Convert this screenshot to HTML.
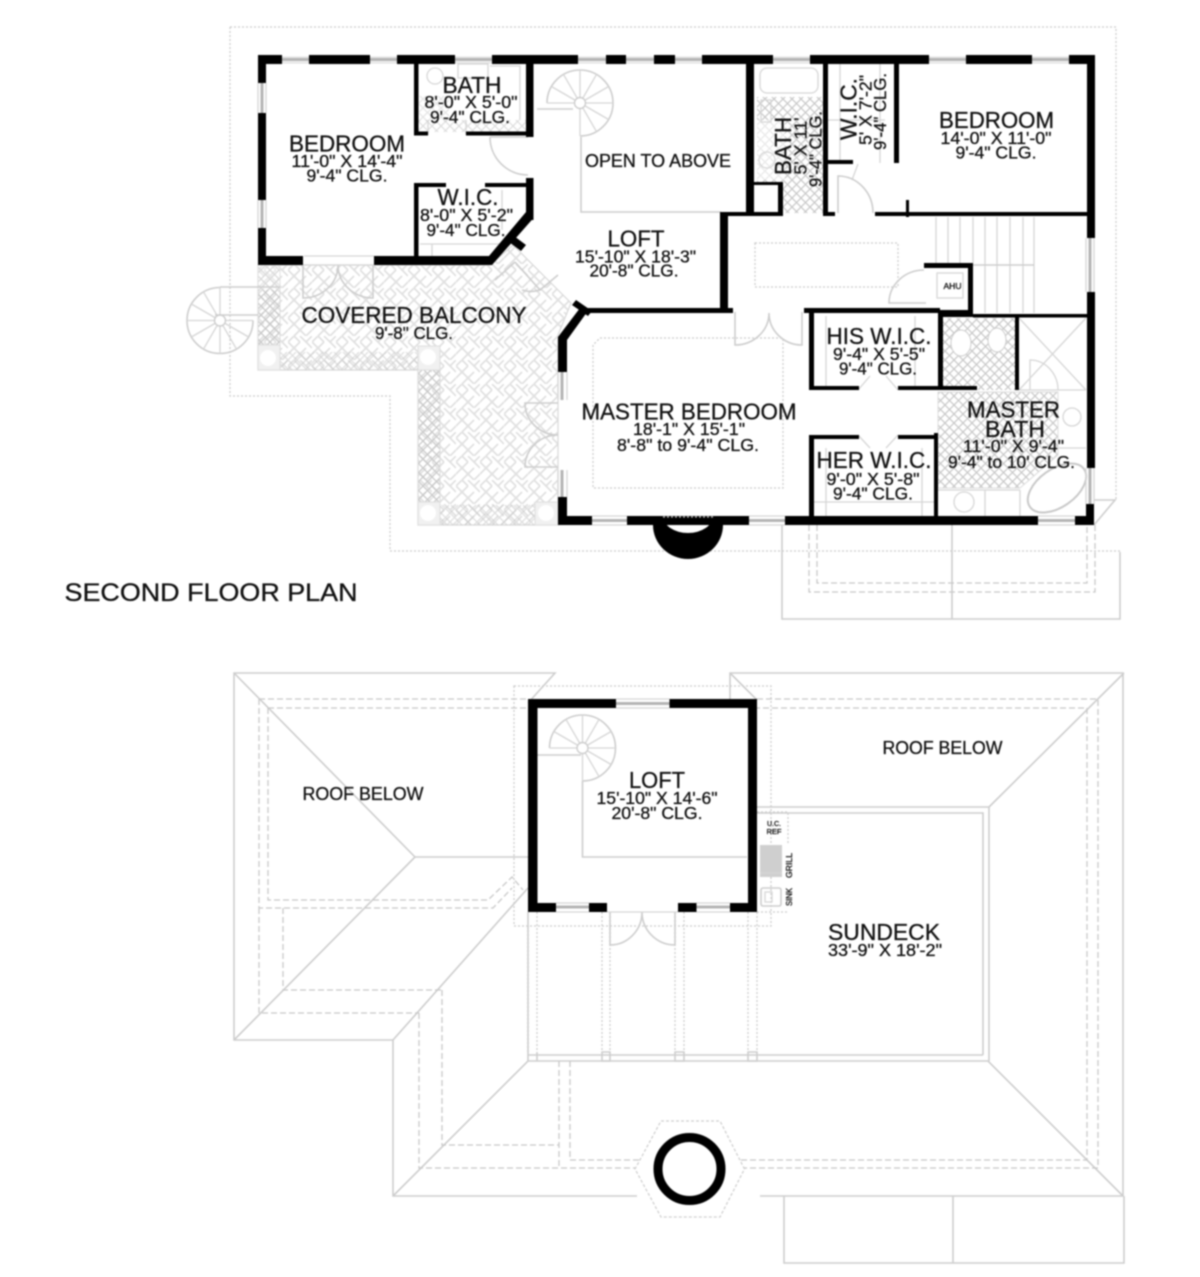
<!DOCTYPE html>
<html><head><meta charset="utf-8"><style>
html,body{margin:0;padding:0;background:#fff}
svg{display:block;filter:blur(.7px)}
text{font-family:"Liberation Sans",sans-serif;fill:#111;stroke:#111;stroke-width:.3px;text-anchor:middle}
.b{font-size:23px}.s{font-size:17.5px}
.l{fill:none;stroke:#cdcdcd;stroke-width:1.6}
.t{fill:none;stroke:#d6d6d6;stroke-width:1.3}
.d{fill:none;stroke:#c8c8c8;stroke-width:1.3;stroke-dasharray:6 3}
.o{fill:none;stroke:#cccccc;stroke-width:1.3;stroke-dasharray:2 2}
.w{fill:none;stroke:#b4b4b4;stroke-width:3}
.e{fill:#f1f1f1;stroke:#dedede;stroke-width:1}
</style></head><body>
<svg xmlns="http://www.w3.org/2000/svg" width="1200" height="1277" viewBox="0 0 1200 1277">
<defs>
<pattern id="hb" width="24" height="24" patternUnits="userSpaceOnUse">
<path d="M0 6L6 0M0 18L12 6M6 24L18 12M18 24L24 18M0 6L18 24M12 0L24 12M6 0L12 6M18 6L24 0M0 18L6 12" fill="none" stroke="#e0e0e0" stroke-width="1.7"/>
</pattern>
<pattern id="xh" width="9" height="9" patternUnits="userSpaceOnUse">
<path d="M0 0L9 9M9 0L0 9" fill="none" stroke="#c8c8c8" stroke-width="1.2"/>
</pattern>
<g id="st">
<path class="l" d="M-33 0A33 33 0 1 1 0 33"/>
<path class="t" d="M-33 0L0 0M-28.6 -16.5L0 0M-16.5 -28.6L0 0M0 -33L0 0M16.5 -28.6L0 0M28.6 -16.5L0 0M33 0L0 0M28.6 16.5L0 0M16.5 28.6L0 0M0 33L0 0"/>
<circle r="5.5" fill="#fff" stroke="#cdcdcd" stroke-width="1.4"/>
</g>
</defs>
<rect width="1200" height="1277" fill="#fff"/>

<!-- second floor outer overhang -->
<path class="o" d="M230 27H1116V500M230 27V396H390V551H782M782 551H1120"/>

<!-- balcony hatch -->
<path fill="url(#hb)" stroke="#d8d8d8" stroke-width="1.2" d="M258 265H490L513 245L571 303L558 335V525H418V370H258Z"/>
<rect x="258" y="265" width="22" height="105" fill="url(#xh)" stroke="#ddd"/>
<rect x="258" y="265" width="22" height="25" fill="#fff" opacity=".3"/>
<rect x="280" y="352" width="138" height="18" fill="url(#xh)" opacity=".6"/>
<rect x="418" y="370" width="22" height="155" fill="url(#xh)" stroke="#ddd"/>
<rect x="440" y="505" width="95" height="20" fill="url(#xh)" opacity=".6"/>
<rect x="258" y="345" width="22" height="25" class="e"/><circle cx="268" cy="358" r="8" fill="#fff"/>
<rect x="418" y="346" width="22" height="24" class="e"/><circle cx="428" cy="357" r="8" fill="#fff"/>
<rect x="418" y="502" width="22" height="23" class="e"/><circle cx="428" cy="513" r="8" fill="#fff"/>
<rect x="535" y="502" width="23" height="23" class="e"/><circle cx="546" cy="513" r="8" fill="#fff"/>

<!-- exterior spiral -->
<use href="#st" transform="translate(220 320.5) rotate(180)"/>
<path class="l" d="M220 287H280M215 315H258"/>

<!-- balcony doors -->
<path class="l" d="M303 265V298A35 33 0 0 0 338 265A35 33 0 0 0 373 298V265" />
<path class="l" d="M495 280L515 262M515 262L540 290A30 30 0 0 1 522 290M540 290L558 275"/>
<path class="l" d="M558 403H525A33 32 0 0 0 558 435A33 32 0 0 0 525 467H558"/>

<!-- loft / open to above -->
<use href="#st" transform="translate(580 103)"/>
<path class="l" d="M537 109H573M581 137V212H721M490 137H528M490 137A38 38 0 0 0 528 175"/>

<!-- bath upper left fixtures -->
<rect x="418" y="120" width="108" height="12" fill="url(#xh)" opacity=".6"/>
<rect x="419" y="96" width="30" height="26" fill="url(#xh)" opacity=".5"/>
<circle cx="435" cy="76" r="8" class="t"/>
<path class="t" d="M458 64H488V78H458ZM490 66H520V120"/>
<path class="t" d="M428 135L428 120M466 135L466 120"/>
<!-- wic shelves -->
<path class="t" d="M420 244H505M432 244V262M502 190V230"/>

<!-- upper right bath -->
<rect x="757" y="97" width="66" height="116" fill="url(#xh)"/>
<rect x="757" y="64" width="66" height="33" fill="#fff"/>
<rect x="757" y="120" width="28" height="60" fill="#fff" opacity=".6"/>
<rect x="760" y="68" width="58" height="25" rx="7" class="t"/>
<circle cx="767" cy="160" r="8" class="t"/>
<rect x="761" y="100" width="10" height="22" class="t"/>
<rect x="754" y="185" width="24" height="28" fill="#fff"/>
<!-- upper right wic shelves -->
<path class="t" d="M840 64V160M880 64V163M828 120H885M858 164L852 180"/>
<path class="l" d="M838 213V176A35 37 0 0 1 873 213"/>

<!-- stairs -->
<path class="t" d="M936 217V263M948 217V263M960 217V263M973 217V263M985 217V313M997 217V313M1010 217V313M1023 217V313M1034 217V313"/>
<path class="l" d="M973 265H1034" stroke-width="3"/>
<path class="o" d="M755 243H898V287H755Z"/>
<path class="l" d="M924 270A35 33 0 0 0 889 303H926"/>
<rect x="937" y="273" width="26" height="25" class="t" stroke-width="3"/>
<rect x="942" y="278" width="17" height="15" fill="#fff"/>

<!-- master -->
<path class="o" d="M600 338H783V488H593V345Z"/>
<path class="l" d="M735 312V345A34 32 0 0 0 769 313A33 32 0 0 0 802 345V312"/>
<rect x="943" y="318" width="72" height="72" fill="url(#xh)"/>
<path fill="url(#xh)" stroke="#ddd" d="M938 392H1058V455L1020 488H938Z"/>
<ellipse cx="961" cy="343" rx="10" ry="13" fill="#fff" stroke="#cdcdcd"/>
<ellipse cx="997" cy="340" rx="9" ry="12" fill="#fff" stroke="#cdcdcd"/>
<path class="t" d="M1019 318L1086 390M1086 318L1019 390M1030 390V360A28 30 0 0 1 1058 390M1019 390H1086"/>
<circle cx="1072" cy="417" r="9" class="t"/>
<ellipse cx="1057" cy="488" rx="33" ry="19" transform="rotate(-35 1057 488)" fill="#fff" stroke="#c8c8c8" stroke-width="2"/>
<circle cx="964" cy="502" r="10" class="t"/>
<path class="t" d="M938 490H1020M1020 490V516M985 490V516M1058 448H1086"/>
<path class="t" d="M826 316V386M915 316V386M826 448V516M922 448V516M814 502H934M858 390L870 376M898 390L886 376M858 435L870 448M898 435L886 448"/>

<!-- porch -->
<path class="l" d="M782 525V619H1120V552M952 525V619M1094 525L1115 500H1094"/>
<path class="d" d="M809 525V592H1095V525M817 525V583H1087V525"/>

<!-- windows -->
<path class="e" d="M282 57h27v6h-27zM370 57h27v6h-27zM455 57h37v6h-37zM578 57h28v6h-28zM626 57h28v6h-28zM675 57h27v6h-27zM773 57h37v6h-37zM929 57h37v6h-37zM1032 57h37v6h-37z"/>
<path class="w" d="M282 59.5H309M370 59.5H397M455 59.5H492M578 59.5H606M626 59.5H654M675 59.5H702M773 59.5H810M929 59.5H966M1032 59.5H1069"/>
<path class="w" d="M262 83V113M262 200V228M1090 238V292M1090 468V504M592 520.5H627M749 520.5H785M1038 520.5H1075M562 372V400M562 470V497"/>
<path class="t" d="M258 83V113M266 83V113M258 200V228M266 200V228M1086 238V292M1094 238V292M1086 468V504M1094 468V504M592 516H627M592 525H627M749 516H785M749 525H785M1038 516H1075M1038 525H1075M558 372V400M567 372V400M558 470V497M567 470V497M303 265H374M304 256H374"/>

<!-- walls -->
<path fill="#000" d="
M258 55H282V64H258ZM309 55H370V64H309ZM397 55H455V64H397ZM492 55H578V64H492ZM606 55H626V64H606ZM654 55H675V64H654ZM702 55H773V64H702ZM810 55H929V64H810ZM966 55H1032V64H966ZM1069 55H1095V64H1069Z
M258 55H266V83H258ZM258 113H266V200H258ZM258 228H266V265H258Z
M258 256H303V265H258ZM374 256H489V265H374Z
M414 64H418.5V135H414ZM414 131.5H428V135.5H414ZM466 131.5H533V135.5H466ZM526 64H533.5V137H526Z
M414 183H418.5V265H414ZM414 183H446V187H414ZM485 183H528V187H485ZM526 178H533.5V220H526Z
M489 256L526 212L533.5 218L492 265H489Z
M509 242L514 236L526 245L521 251Z
M746 64H754V213H746ZM754 182H783V185H754ZM778 182H783V215H778ZM720 212H783V216H720Z
M720 212H728V312H720ZM720 308H733V313H720Z
M823 64H828V215H823ZM823 212H835V216H823ZM828 160H853V164H828ZM894 64H899V163H894ZM875 212H1087V216H875ZM906 200H909V217H906Z
M1087 55H1095V238H1087ZM1087 292H1095V468H1087ZM1086 504H1094V525H1086ZM1075 516H1094V525H1075Z
M924 263H973V268H924ZM968 263H973V315H968ZM804 308H940V313H804ZM940 310H973V317H940ZM973 314H1087V317.5H973Z
M809 309H814V390H809ZM809 386H859V390H809ZM898 386H977V390H898ZM938 310H943V390H938ZM1015 317H1019V390H1015Z
M809 435H859V439H809ZM898 435H938V439H898ZM809 435H814V517H809ZM934 433H938V517H934Z
M785 516H1038V525H785ZM627 516H749V525H627ZM558 516H592V525H558ZM558 497H567V525H558Z
M558 337H567V372H558ZM558 337L580 308H590L567 340Z
M576 300L592 311L588 316L572 305ZM585 308H731V313H585Z
M653 525V516H663A25 17 0 0 0 713 516H723V525A35 34 0 0 1 653 525Z"/>
<path class="o" d="M663 517H713"/>

<!-- floor 2 text -->
<text class="b" x="347" y="151.5" textLength="116" lengthAdjust="spacingAndGlyphs">BEDROOM</text>
<text class="s" x="347" y="167" textLength="111" lengthAdjust="spacingAndGlyphs">11'-0" X 14'-4"</text>
<text class="s" x="347" y="181.5" textLength="81" lengthAdjust="spacingAndGlyphs">9'-4" CLG.</text>
<text class="b" x="472" y="93" textLength="59" lengthAdjust="spacingAndGlyphs">BATH</text>
<text class="s" x="471" y="108" textLength="93" lengthAdjust="spacingAndGlyphs">8'-0" X 5'-0"</text>
<text class="s" x="470" y="123" textLength="80" lengthAdjust="spacingAndGlyphs">9'-4" CLG.</text>
<text class="b" x="468" y="205" textLength="61" lengthAdjust="spacingAndGlyphs">W.I.C.</text>
<text class="s" x="466.5" y="221" textLength="93" lengthAdjust="spacingAndGlyphs">8'-0" X 5'-2"</text>
<text class="s" x="466" y="236" textLength="79" lengthAdjust="spacingAndGlyphs">9'-4" CLG.</text>
<text x="658" y="167" font-size="18" textLength="146" lengthAdjust="spacingAndGlyphs">OPEN TO ABOVE</text>
<text class="b" x="636" y="246.5" textLength="57" lengthAdjust="spacingAndGlyphs">LOFT</text>
<text class="s" x="635.5" y="262.5" textLength="121" lengthAdjust="spacingAndGlyphs">15'-10" X 18'-3"</text>
<text class="s" x="634" y="276.5" textLength="89" lengthAdjust="spacingAndGlyphs">20'-8" CLG.</text>
<text class="b" x="414" y="323" textLength="225" lengthAdjust="spacingAndGlyphs">COVERED BALCONY</text>
<text class="s" x="414" y="339" textLength="78" lengthAdjust="spacingAndGlyphs">9'-8" CLG.</text>
<text class="b" x="689" y="419.5" textLength="215" lengthAdjust="spacingAndGlyphs">MASTER BEDROOM</text>
<text class="s" x="689" y="435" textLength="112" lengthAdjust="spacingAndGlyphs">18'-1" X 15'-1"</text>
<text class="s" x="688" y="451" textLength="142" lengthAdjust="spacingAndGlyphs">8'-8" to 9'-4" CLG.</text>
<text class="b" x="996.5" y="128" textLength="115" lengthAdjust="spacingAndGlyphs">BEDROOM</text>
<text class="s" x="996" y="144" textLength="111" lengthAdjust="spacingAndGlyphs">14'-0" X 11'-0"</text>
<text class="s" x="996" y="158.5" textLength="81" lengthAdjust="spacingAndGlyphs">9'-4" CLG.</text>
<text class="b" transform="translate(791 146) rotate(-90)" textLength="58" lengthAdjust="spacingAndGlyphs">BATH</text>
<text class="s" transform="translate(806.5 146) rotate(-90)" textLength="57" lengthAdjust="spacingAndGlyphs">5' X 11'</text>
<text class="s" transform="translate(821.5 149) rotate(-90)" textLength="76" lengthAdjust="spacingAndGlyphs">9'-4" CLG.</text>
<text class="b" transform="translate(856.5 109) rotate(-90)" textLength="62" lengthAdjust="spacingAndGlyphs">W.I.C.</text>
<text class="s" transform="translate(871.5 110) rotate(-90)" textLength="70" lengthAdjust="spacingAndGlyphs">5' X 7'-2"</text>
<text class="s" transform="translate(886 111.5) rotate(-90)" textLength="77" lengthAdjust="spacingAndGlyphs">9'-4" CLG.</text>
<text class="b" x="879" y="344" textLength="105" lengthAdjust="spacingAndGlyphs">HIS W.I.C.</text>
<text class="s" x="879" y="360" textLength="92" lengthAdjust="spacingAndGlyphs">9'-4" X 5'-5"</text>
<text class="s" x="878" y="374.5" textLength="78" lengthAdjust="spacingAndGlyphs">9'-4" CLG.</text>
<text class="b" x="874" y="468" textLength="115" lengthAdjust="spacingAndGlyphs">HER W.I.C.</text>
<text class="s" x="873" y="485" textLength="93" lengthAdjust="spacingAndGlyphs">9'-0" X 5'-8"</text>
<text class="s" x="873" y="499.5" textLength="80" lengthAdjust="spacingAndGlyphs">9'-4" CLG.</text>
<text class="b" x="1013.5" y="417.5" textLength="93" lengthAdjust="spacingAndGlyphs">MASTER</text>
<text class="b" x="1015" y="437" textLength="60" lengthAdjust="spacingAndGlyphs">BATH</text>
<text class="s" x="1013.5" y="452" textLength="101" lengthAdjust="spacingAndGlyphs">11'-0" X 9'-4"</text>
<text class="s" x="1011.5" y="468" textLength="127" lengthAdjust="spacingAndGlyphs">9'-4" to 10' CLG.</text>
<text x="952.5" y="289" font-size="8" textLength="18" lengthAdjust="spacingAndGlyphs">AHU</text>
<text x="211" y="601" font-size="25" textLength="293" lengthAdjust="spacingAndGlyphs">SECOND FLOOR PLAN</text>

<!-- ROOF PLAN -->
<path class="l" d="M528 703L555 673H234V1040H393L528 888M234 673L415 857H528M415 857L234 1040M393 1040V1196H637M760 1196H1123V673H730V700M730 673L757 700M1124 673L989 807M757 807H989V1061M757 813H983V1055M393 1196L528 1061H988L1123 1196"/>
<path class="l" d="M784 1196V1263H1124V1196M953 1196V1263"/>
<path class="d" d="M259 699H528M268 708H528M268 708V900H488L512 877L523 890M259 699V908H493L512 888M283 908V990H442M259 908V1013H419M419 1013V1168H1098V699H757M442 990V1145H559M559 1061V1168M570 1061V1160H1087V708H757"/>
<path class="o" d="M514 686H771V926H514ZM528 926V1052M537 912V1052M602 912V1052M610 912V1052M675 912V1052M684 912V1052M748 912V1052M757 912V1052"/>
<path class="l" d="M528 912V1061M537 1052V1061M602 1052H610V1061H602ZM675 1052H684V1061H675ZM748 1052H757V1061H748ZM528 1055H983"/>
<path fill="#fff" stroke="#d0d0d0" stroke-width="1.3" stroke-dasharray="3 2" d="M661 1121H720L744.5 1169L720 1217H661L635 1169Z"/>
<circle cx="689.5" cy="1169" r="31.5" fill="#fff" stroke="#000" stroke-width="9"/>

<use href="#st" transform="translate(582.5 748)"/>
<path class="l" d="M537 755H581M582.5 781V857H747" stroke-width="2"/>
<path class="l" d="M610 912V945A32 33 0 0 0 642 912A33 33 0 0 0 675 945V912"/>

<!-- appliances -->
<path class="o" d="M757 812H788V843M757 912H788"/>
<rect x="760" y="845" width="22" height="32" fill="#cfcfcf"/>
<path class="t" d="M760 873H782"/>
<rect x="761" y="888" width="20" height="18" rx="2" class="l"/>
<path class="t" d="M765 892H772V902H765Z"/>

<!-- window lines -->
<path class="w" d="M616 703.5H669.5M556 907H589M696 907H730"/>
<path class="t" d="M616 699H669.5M616 708H669.5M556 903H589M556 912H589M696 903H730M696 912H730M607 912H678"/>

<path fill="#000" d="
M528 699H616V708H528ZM669.5 699H757V708H669.5Z
M528 699H537.5V912H528ZM748 699H757V912H748Z
M528 903H556V912H528ZM589 903H607V912H589ZM678 903H696.5V912H678ZM730 903H757V912H730Z"/>

<text class="b" x="657" y="788" textLength="56" lengthAdjust="spacingAndGlyphs">LOFT</text>
<text class="s" x="657" y="804" textLength="121" lengthAdjust="spacingAndGlyphs">15'-10" X 14'-6"</text>
<text class="s" x="657" y="819" textLength="91" lengthAdjust="spacingAndGlyphs">20'-8" CLG.</text>
<text x="363" y="800" font-size="18" textLength="121" lengthAdjust="spacingAndGlyphs">ROOF BELOW</text>
<text x="942.5" y="754" font-size="18" textLength="120" lengthAdjust="spacingAndGlyphs">ROOF BELOW</text>
<text class="b" x="884" y="940" textLength="112" lengthAdjust="spacingAndGlyphs">SUNDECK</text>
<text class="s" x="885" y="956" textLength="114" lengthAdjust="spacingAndGlyphs">33'-9" X 18'-2"</text>
<text x="774" y="826" font-size="7" textLength="14" lengthAdjust="spacingAndGlyphs">U.C.</text>
<text x="774" y="834" font-size="7" textLength="15" lengthAdjust="spacingAndGlyphs">REF</text>
<text font-size="8" transform="translate(792 865.5) rotate(-90)" textLength="25" lengthAdjust="spacingAndGlyphs">GRILL</text>
<text font-size="8" transform="translate(792 897) rotate(-90)" textLength="18" lengthAdjust="spacingAndGlyphs">SINK</text>
</svg>
</body></html>
